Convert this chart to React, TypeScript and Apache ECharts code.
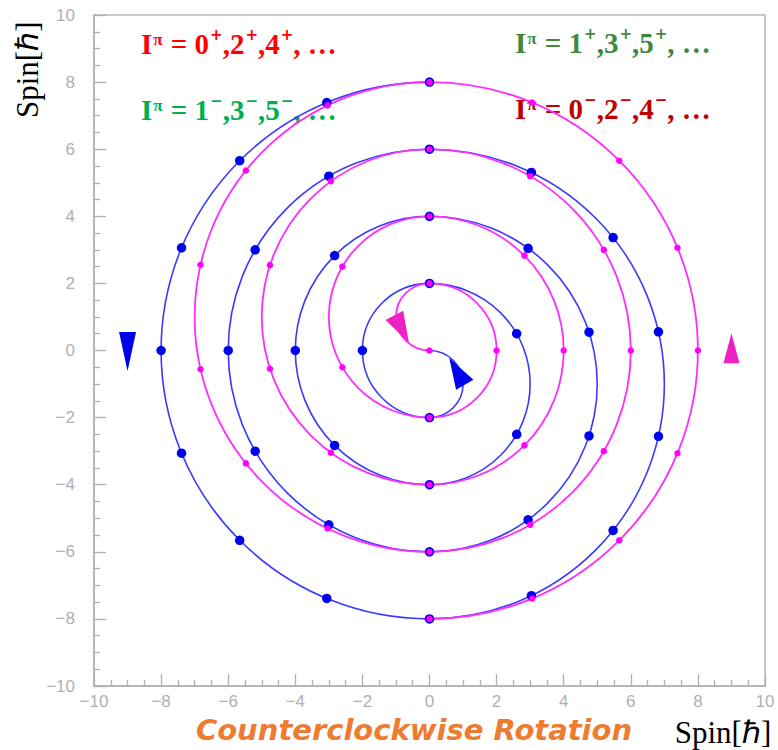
import React, { useEffect, useRef } from 'react';
import * as echarts from 'echarts';

// Each spiral is built from half-turns. Radius of each half-turn in units of ħ.
const halfTurnRadii = [1, 2, 3, 4, 5, 6, 7, 8];
// Centre (y) each half-turn winds about, and which half it lies on (-1 left, +1 right).
const magentaCentreY = [1, 0, 1, 0, 1, 0, 1, 0];
const magentaSide = [-1, 1, -1, 1, -1, 1, -1, 1];
const blueCentreY = [-1, 0, -1, 0, -1, 0, -1, 0];
const blueSide = [1, -1, 1, -1, 1, -1, 1, -1];
// States sit one step apart; a half-turn of radius r holds r steps.
const magentaStartsAtOrigin = true;
const blueStartsAtOrigin = false;

// Arrow heads: [x, y] in spin units
const blueArrows = [[-9, -0.03], [0.82, -0.62]];
const magentaArrows = [[9, 0.07], [-0.83, 0.64]];

// Spin-parity sequences written in the corners
const seqEvenPlus = ['0', '2', '4'];
const seqOddPlus = ['1', '3', '5'];
const seqOddMinus = ['1', '3', '5'];
const seqEvenMinus = ['0', '2', '4'];

const axisMin = -10;
const axisMax = 10;
const axisStep = 2;

const BLUE_LINE = '#3a3aff';
const BLUE_DOT = '#0000f0';
const MAGENTA_LINE = '#ff2cff';
const MAGENTA_DOT = '#ff00ff';
const BLUE_ARROW = '#0000ee';
const MAGENTA_ARROW = '#ec22c4';

function halfTurns(centres: number[], sides: number[]) {
  return halfTurnRadii.map((r, i) => [0, centres[i], r, sides[i]]);
}

function states(centres: number[], sides: number[], origin: boolean) {
  const pts: number[][] = origin ? [[0, 0]] : [];
  halfTurnRadii.forEach((r, i) => {
    const start = sides[i] > 0 ? 90 : 270;
    for (let j = 1; j <= r; j++) {
      const a = ((start - (j * 180) / r) * Math.PI) / 180;
      const x = r * Math.cos(a);
      const y = centres[i] + r * Math.sin(a);
      pts.push([Math.abs(x) < 1e-9 ? 0 : x, y]);
    }
  });
  return pts;
}

function arcSeries(name: string, data: number[][], color: string, width: number) {
  return {
    type: 'custom',
    name,
    coordinateSystem: 'cartesian2d',
    data,
    encode: { x: 0, y: 1 },
    clip: false,
    silent: true,
    renderItem: (_params: any, api: any) => {
      const c = api.coord([api.value(0), api.value(1)]);
      const sz = api.size([api.value(2), api.value(2)]);
      const start = api.value(3) > 0 ? -Math.PI / 2 : Math.PI / 2;
      return {
        type: 'arc',
        x: c[0],
        y: c[1],
        scaleY: sz[1] / sz[0],
        shape: { cx: 0, cy: 0, r: sz[0], startAngle: start, endAngle: start + Math.PI, clockwise: true },
        style: { stroke: color, lineWidth: width, fill: 'none', strokeNoScale: true },
      };
    },
  };
}

function seqText(digits: string[], parity: string) {
  let s = '{m|I}{p|π}{m| = }';
  digits.forEach((d, i) => {
    s += `{m|${i ? ',' : ''}${d}}{s|${parity}}`;
  });
  s += '{m|, …}';
  return s;
}

function seqLabel(digits: string[], parity: string, color: string, x: number, y: number) {
  const font = 'Liberation Serif';
  return {
    type: 'text',
    left: x,
    top: y,
    style: {
      text: seqText(digits, parity),
      rich: {
        m: { fontFamily: font, fontWeight: 'bold', fontSize: 29, fill: color, lineHeight: 31, verticalAlign: 'bottom' },
        p: { fontFamily: font, fontWeight: 'bold', fontSize: 17, fill: color, lineHeight: 31, verticalAlign: 'middle', padding: [0, 1, 7, 1] },
        s: { fontFamily: 'DejaVu Sans', fontWeight: 'bold', fontSize: 15, fill: color, lineHeight: 31, verticalAlign: 'top', padding: [0, 0, 0, 1] },
      },
    },
  };
}

export default function App() {
  const ref = useRef<HTMLDivElement>(null);

  useEffect(() => {
    if (!ref.current) return;
    const chart = echarts.init(ref.current, undefined, { renderer: 'svg' });

    const tickLabel = {
      color: '#b0b0b0',
      fontFamily: 'Liberation Sans',
      fontSize: 17,
      formatter: (v: number) => (v < 0 ? '\u2212' + Math.abs(v) : String(v)),
    };
    const axisCommon = {
      type: 'value',
      min: axisMin,
      max: axisMax,
      interval: axisStep,
      axisLine: { show: true, onZero: false, lineStyle: { color: '#b0b0b0', width: 1.5 } },
      axisTick: { show: true, inside: true, length: 12, lineStyle: { color: '#b0b0b0', width: 1.3 } },
      minorTick: { show: true, splitNumber: 4, length: 6, lineStyle: { color: '#b0b0b0', width: 1.3 } },
      splitLine: { show: false },
      minorSplitLine: { show: false },
    };

    const solid = (color: string) => ({ color, opacity: 1 });

    chart.setOption({
      animation: false,
      backgroundColor: '#ffffff',
      grid: {
        left: 94,
        top: 15,
        width: 671,
        height: 671,
        containLabel: false,
        outerBoundsMode: 'none',
        show: true,
        borderColor: '#b8b8b8',
        borderWidth: 1.5,
        backgroundColor: 'transparent',
      },
      xAxis: { ...axisCommon, axisLabel: { ...tickLabel, margin: 7 } },
      yAxis: {
        ...axisCommon,
        axisLabel: { ...tickLabel, margin: 19 },
        name: 'Spin[ℏ]',
        nameLocation: 'end',
        nameRotate: 90,
        nameGap: -103,
        nameMoveOverlap: false,
        nameTextStyle: {
          fontFamily: 'Liberation Serif',
          fontSize: 31,
          lineHeight: 31,
          color: '#000000',
          align: 'left',
          verticalAlign: 'bottom',
          padding: [0, 0, 51, 0],
        },
      },
      series: [
        arcSeries('blue spiral', halfTurns(blueCentreY, blueSide), BLUE_LINE, 1.6),
        arcSeries('magenta spiral', halfTurns(magentaCentreY, magentaSide), MAGENTA_LINE, 1.8),
        {
          type: 'scatter',
          name: 'blue states',
          data: states(blueCentreY, blueSide, blueStartsAtOrigin),
          symbol: 'circle',
          symbolSize: 9.5,
          itemStyle: solid(BLUE_DOT),
          silent: true,
          z: 3,
        },
        {
          type: 'scatter',
          name: 'magenta states',
          data: states(magentaCentreY, magentaSide, magentaStartsAtOrigin),
          symbol: 'circle',
          symbolSize: 6.5,
          itemStyle: solid(MAGENTA_DOT),
          silent: true,
          z: 4,
        },
        {
          type: 'scatter',
          name: 'blue arrows',
          data: blueArrows,
          symbol: 'triangle',
          symbolSize: (_v: any, p: any) => (p.dataIndex === 0 ? [17, 39] : [20, 31]),
          symbolRotate: (_v: any, p: any) => (p.dataIndex === 0 ? 180 : 30),
          itemStyle: solid(BLUE_ARROW),
          silent: true,
          z: 5,
        },
        {
          type: 'scatter',
          name: 'magenta arrows',
          data: magentaArrows,
          symbol: 'triangle',
          symbolSize: (_v: any, p: any) => (p.dataIndex === 0 ? [16, 30] : [20, 31]),
          symbolRotate: (_v: any, p: any) => (p.dataIndex === 0 ? 0 : 208),
          itemStyle: solid(MAGENTA_ARROW),
          silent: true,
          z: 5,
        },
      ],
      graphic: [
        seqLabel(seqEvenPlus, '+', '#ff0000', 141, 27),
        seqLabel(seqOddMinus, '\u2212', '#00b050', 141, 93),
        seqLabel(seqOddPlus, '+', '#3d8a3d', 515, 26),
        seqLabel(seqEvenMinus, '\u2212', '#c00000', 515, 92),
        {
          type: 'text',
          x: 723,
          y: 732,
          style: {
            text: 'Spin[ℏ]',
            font: '31px "Liberation Serif"',
            fill: '#000000',
            align: 'center',
            verticalAlign: 'middle',
          },
        },
        {
          type: 'text',
          x: 414,
          y: 730,
          style: {
            text: 'Counterclockwise Rotation',
            font: 'italic bold 29px "DejaVu Sans"',
            fill: '#ee7b30',
            align: 'center',
            verticalAlign: 'middle',
            shadowBlur: 2,
            shadowColor: 'rgba(150,70,0,0.5)',
            shadowOffsetX: 1,
            shadowOffsetY: 1,
          },
        },
      ],
    });

    return () => chart.dispose();
  }, []);

  return (
    <div
      ref={ref}
      style={{ position: 'fixed', left: 0, top: 0, width: 778, height: 750, background: '#fff' }}
    />
  );
}
